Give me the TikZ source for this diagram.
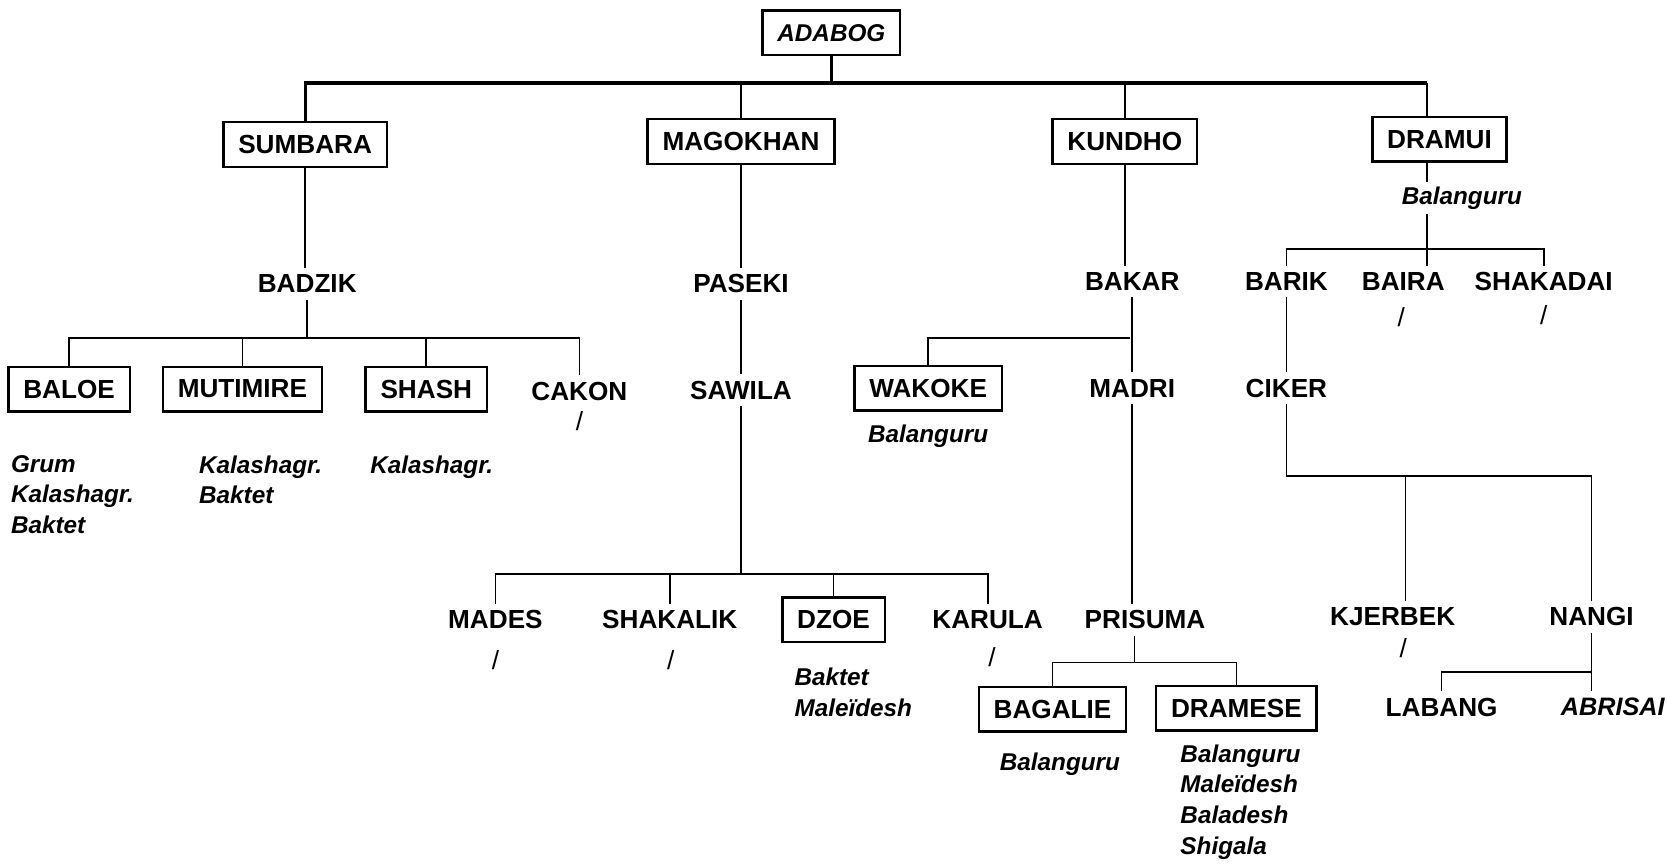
\documentclass[tikz,border=0pt]{standalone}
\usepackage{fontspec}
\setmainfont{Liberation Sans}
\tikzstyle{lang} = [font={\bfseries\fontsize{14}{16}\selectfont}, inner xsep=0pt, inner ysep=0.12cm]
\tikzstyle{boxed} = [lang, draw, line width=1.3pt, inner xsep=0.28cm, minimum height=0.84cm]
\tikzstyle{dial} = [font={\bfseries\itshape\fontsize{13}{16.4}\selectfont}, align=left, inner sep=0pt, anchor=north west]
\tikzstyle{absent} = [font={\fontsize{14}{16}\selectfont}, inner sep=0pt]
\tikzstyle{link} = [line width=0.9pt]
\tikzstyle{trunk} = [line width=1.7pt]

\begin{document}
\begin{tikzpicture}[x=0.02cm, y=-0.02cm]
    \useasboundingbox (0,0) rectangle (1568,812);
    \node[boxed, font={\bfseries\itshape\fontsize{13}{16}\selectfont}](adabog) at (782,31){ADABOG};
    \node[boxed](sumbara) at (287,136){SUMBARA};
    \node[boxed](magokhan) at (697,133){MAGOKHAN};
    \node[boxed](kundho) at (1058,133){KUNDHO};
    \node[boxed](dramui) at (1354,131){DRAMUI};
    \node[dial, anchor=center, inner ysep=0.08cm](baldr) at (1375,186){Balanguru};

    \node[lang](badzik) at (289,267){BADZIK};
    \node[lang](paseki) at (697,267){PASEKI};
    \node[lang](bakar) at (1065,265){BAKAR};
    \node[lang](barik) at (1210,265){BARIK};
    \node[lang](baira) at (1320,265){BAIRA};
    \node[lang](shakadai) at (1452,265){SHAKADAI};
    \node[absent](baira0) at (1318,298){/};
    \node[absent](shakadai0) at (1452,296){/};

    \node[boxed](baloe) at (65,366){BALOE};
    \node[boxed](mutimire) at (228,366){MUTIMIRE};
    \node[boxed](shash) at (401,366){SHASH};
    \node[lang](cakon) at (545,368){CAKON};
    \node[absent](cakon0) at (545,396){/};
    \node[lang](sawila) at (697,367){SAWILA};
    \node[boxed](wakoke) at (873,365){WAKOKE};
    \node[dial, anchor=center](balwa) at (873,410){Balanguru};
    \node[lang](madri) at (1065,365){MADRI};
    \node[lang](ciker) at (1210,365){CIKER};
    \node[dial](baloe1) at (10,428){Grum\\Kalashagr.\\Baktet};
    \node[dial](mutimire1) at (187,428){Kalashagr.\\Baktet};
    \node[dial](shash1) at (348,428){Kalashagr.};

    \node[lang](mades) at (466,583){MADES};
    \node[lang](shakalik) at (630,583){SHAKALIK};
    \node[boxed](dzoe) at (784,583){DZOE};
    \node[lang](karula) at (929,583){KARULA};
    \node[lang](prisuma) at (1077,583){PRISUMA};
    \node[lang](kjerbek) at (1310,580){KJERBEK};
    \node[lang](nangi) at (1497,580){NANGI};
    \node[absent](mades0) at (466,621){/};
    \node[absent](shakalik0) at (631,621){/};
    \node[absent](karula0) at (933,618){/};
    \node[absent](kjerbek0) at (1320,610){/};
    \node[dial](dzoe1) at (747,628){Baktet\\Maleïdesh};

    \node[boxed](bagalie) at (990,667){BAGALIE};
    \node[boxed](dramese) at (1163,666){DRAMESE};
    \node[dial, anchor=center](balba) at (997,719){Balanguru};
    \node[dial](dramese1) at (1110,700){Balanguru\\Maleïdesh\\Baladesh\\Shigala};
    \node[lang](labang) at (1356,665){LABANG};
    \node[lang, font={\bfseries\itshape\fontsize{13.5}{15}\selectfont}](abrisai) at (1517,665){ABRISAI};

    \coordinate (topbus) at (782,78);
    \coordinate (drx) at (1342,78);
    \coordinate (sbus) at (289,318);
    \coordinate (kbus) at (1063,318);
    \coordinate (drbus) at (1342,234);
    \coordinate (mbus) at (697,540);
    \coordinate (cbus) at (1322,448);
    \coordinate (pbus) at (1067,623);
    \coordinate (nbus) at (1497,632);

    \draw[trunk](adabog) -- (topbus);
    \draw[trunk](sumbara.north) |- (drx);
    \draw[link](drx) -- (drx |- dramui.north);
    \draw[link](magokhan.north) -- (magokhan.north |- topbus);
    \draw[link](kundho.north) -- (kundho.north |- topbus);

    \draw[link](sumbara.south) -- (sumbara.south |- badzik.north);
    \draw[link](badzik.south) -- (sbus);
    \draw[link](baloe.north) |- (sbus) -| (cakon.north);
    \draw[link](mutimire.north) -- (mutimire.north |- sbus);
    \draw[link](shash.north) -- (shash.north |- sbus);

    \draw[link](magokhan.south) -- (paseki.north);
    \draw[link](paseki.south) -- (sawila.north);
    \draw[link](sawila.south) -- (mbus);
    \draw[link](mades.north) |- (mbus) -| (karula.north);
    \draw[link](shakalik.north) -- (shakalik.north |- mbus);
    \draw[link](dzoe.north) -- (dzoe.north |- mbus);

    \draw[link](kundho.south) -- (kundho.south |- bakar.north);
    \draw[link](bakar.south) -- (madri.north);
    \draw[link](wakoke.north) |- (kbus);
    \draw[link](madri.south) -- (madri.south |- prisuma.north);
    \draw[link](prisuma.south -| pbus) -- (pbus);
    \draw[link](bagalie.north) |- (pbus) -| (dramese.north);

    \draw[link](dramui.south -| drx) -- (baldr.north -| drx);
    \draw[link](baldr.south -| drx) -- (baira.north -| drx);
    \draw[link](barik.north) |- (drbus) -| (shakadai.north);
    \draw[link](barik.south) -- (ciker.north);
    \draw[link](ciker.south) |- (cbus) -| (nangi.north);
    \draw[link](kjerbek.north -| cbus) -- (cbus);
    \draw[link](nangi.south) -- (nangi.south |- abrisai.north);
    \draw[link](labang.north) |- (nbus);
\end{tikzpicture}
\end{document}
